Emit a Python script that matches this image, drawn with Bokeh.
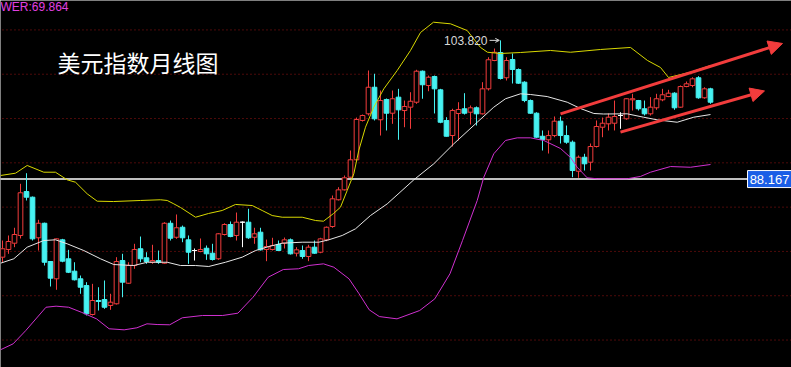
from bokeh.plotting import figure
from bokeh.models import Range1d, Arrow, NormalHead, OpenHead
from bokeh.core.properties import value
from bokeh.embed import file_html
from bokeh.resources import INLINE

# ---------------- data (monthly candles) ----------------
opens = [79.35, 80.22, 80.93, 81.80, 86.76, 86.12, 81.54, 83.18, 78.86, 76.91,
         81.31, 79.17, 77.77, 76.91, 76.15, 72.88, 74.46, 74.57, 73.90, 74.09,
         78.97, 76.41, 78.41, 80.30, 79.28, 78.78, 78.97, 78.67, 83.18, 81.60,
         82.73, 81.31, 80.10, 79.99, 80.36, 79.80, 79.17, 81.91, 83.04, 81.80,
         83.30, 83.30, 81.60, 82.17, 80.22, 80.22, 80.78, 80.93, 81.31, 79.80,
         80.10, 79.43, 80.48, 79.91, 81.31, 82.81, 85.83, 86.95, 88.38, 90.34,
         94.78, 95.53, 98.53, 94.86, 97.15, 95.60, 97.41, 95.90, 96.28, 96.84,
         100.34, 98.73, 99.74, 98.24, 94.78, 93.08, 95.57, 96.10, 95.71, 96.21,
         95.53, 98.35, 101.55, 102.45, 99.60, 101.66, 100.53, 99.10, 97.03, 95.60,
         93.00, 92.60, 93.08, 94.70, 93.08, 92.33, 89.05, 90.63, 90.07, 91.84,
         94.02, 94.40, 94.47, 95.34, 94.97, 97.11, 97.03, 96.10, 95.53, 96.21,
         97.11, 97.48, 97.86, 96.28, 98.61, 98.73, 99.60, 97.34, 98.35]
highs = [81.23, 81.80, 82.67, 87.63, 88.83, 86.20, 83.57, 83.25, 78.90, 81.46,
         81.42, 80.18, 78.78, 77.28, 76.53, 76.34, 75.96, 76.72, 75.22, 79.35,
         79.73, 78.78, 80.86, 81.68, 79.91, 80.75, 80.10, 83.30, 83.49, 84.17,
         82.92, 81.80, 80.33, 81.46, 80.67, 80.86, 82.06, 83.18, 83.38, 84.39,
         83.38, 84.81, 82.67, 82.67, 81.34, 81.54, 81.23, 81.57, 81.46, 80.48,
         80.67, 80.75, 81.23, 81.54, 82.81, 86.31, 87.25, 88.57, 91.39, 95.11,
         95.45, 100.42, 100.05, 98.16, 97.26, 98.16, 98.35, 97.03, 97.97, 100.50,
         100.42, 99.85, 99.85, 98.35, 95.15, 96.10, 96.84, 97.86, 96.47, 96.36,
         99.10, 101.92, 102.90, 103.82, 101.92, 102.34, 100.65, 99.21, 97.15, 95.71,
         93.65, 93.65, 95.23, 95.23, 94.21, 92.52, 90.83, 91.02, 92.18, 94.78,
         95.11, 95.57, 97.03, 95.71, 97.29, 97.79, 97.10, 97.03, 97.41, 97.79,
         98.35, 98.24, 97.97, 98.73, 99.18, 99.66, 99.78, 98.53, 98.47]
lows = [78.78, 79.73, 80.48, 81.46, 85.75, 81.23, 80.10, 78.41, 76.04, 75.67,
        78.78, 77.56, 76.72, 75.22, 72.77, 72.77, 73.33, 73.52, 73.41, 74.01,
        74.83, 76.34, 78.04, 78.78, 78.60, 78.60, 78.60, 78.60, 81.23, 81.42,
        81.04, 78.60, 78.97, 79.91, 79.05, 78.97, 79.05, 81.80, 81.60, 81.23,
        80.48, 81.42, 80.86, 80.10, 78.90, 80.10, 80.05, 80.33, 79.65, 79.43,
        79.17, 78.90, 79.73, 79.80, 81.15, 82.67, 85.75, 86.88, 88.31, 90.26,
        94.66, 95.34, 94.78, 93.08, 93.65, 94.40, 92.60, 94.02, 93.84, 96.66,
        97.23, 98.08, 95.57, 94.47, 92.97, 91.84, 92.52, 95.45, 94.32, 94.21,
        95.45, 98.16, 101.47, 99.40, 99.29, 98.95, 98.92, 96.84, 95.53, 92.82,
        91.39, 91.05, 92.89, 92.18, 92.15, 88.38, 88.31, 89.13, 89.13, 91.73,
        92.89, 93.65, 93.65, 93.84, 94.86, 95.90, 95.90, 95.34, 95.34, 95.98,
        96.95, 97.41, 95.98, 96.21, 98.53, 98.53, 97.23, 97.23, 96.66]
closes = [80.30, 81.12, 81.91, 86.62, 86.12, 81.42, 83.18, 78.78, 76.98, 81.42,
          78.90, 77.65, 76.80, 75.96, 72.96, 74.46, 74.35, 73.70, 74.27, 78.86,
          76.53, 78.41, 80.22, 79.17, 78.86, 78.97, 78.78, 83.18, 81.49, 82.67,
          81.54, 79.91, 80.10, 80.22, 79.73, 79.09, 81.99, 83.04, 81.68, 83.30,
          83.30, 81.54, 81.99, 80.18, 80.55, 80.67, 80.10, 81.31, 79.73, 80.18,
          79.43, 80.48, 79.80, 81.42, 82.73, 85.94, 86.95, 88.31, 90.34, 94.89,
          95.34, 98.53, 94.97, 97.03, 95.60, 97.23, 95.98, 96.36, 96.95, 100.34,
          98.81, 99.66, 98.35, 94.58, 93.00, 95.90, 96.02, 95.60, 96.21, 95.53,
          98.35, 101.63, 102.48, 99.52, 101.55, 100.53, 98.99, 97.03, 95.60, 92.89,
          92.63, 93.08, 94.70, 93.08, 92.33, 89.13, 90.63, 89.89, 91.84, 94.10,
          94.47, 95.15, 95.23, 95.34, 97.23, 97.23, 96.10, 95.53, 96.28, 97.23,
          97.68, 97.86, 96.21, 98.61, 98.92, 99.48, 97.34, 98.35, 96.84]

# Bollinger bands (read at points along each line; x = candle number)
upper_x = [-0.33, 2.17, 4.12, 6.88, 8.83, 10.78, 12.17, 14.12, 15.78, 18.5,
           23.0, 26.33, 27.45, 28.55, 29.67, 32.17, 34.33, 36.62, 38.83, 41.62,
           43.28, 44.95, 46.62, 49.95, 52.17, 53.5, 55.17, 56.33, 57.45, 58.55,
           59.38, 60.5, 61.88, 63.55, 65.78, 68.0, 69.67, 71.83, 74.67, 77.45,
           79.67, 80.83, 83.0, 86.33, 91.33, 94.67, 99.67, 104.67, 107.5, 109.67,
           111.0, 114.67, 118.0]
upper_y = [88.57, 88.83, 89.70, 88.94, 88.94, 88.08, 87.81, 86.50, 85.67, 85.63,
           85.75, 85.83, 85.75, 85.37, 84.96, 83.86, 84.28, 84.62, 85.30, 85.18,
           84.62, 84.05, 83.86, 83.86, 83.49, 83.41, 84.28, 84.99, 86.88, 88.76,
           91.39, 94.02, 96.28, 98.35, 100.42, 102.68, 104.71, 105.87, 105.69, 104.93,
           103.02, 102.48, 102.34, 102.45, 102.68, 102.48, 102.79, 103.02, 101.55, 100.76,
           99.63, 100.23, 100.98]
mid_x = [-0.33, 1.88, 4.12, 6.88, 8.83, 10.78, 13.55, 16.33, 18.55, 21.88,
         24.12, 27.45, 29.67, 32.17, 34.38, 37.17, 39.95, 42.17, 44.38, 46.62,
         49.95, 52.72, 54.38, 56.62, 58.83, 61.33, 64.12, 68.55, 71.88, 75.22,
         79.12, 81.88, 83.83, 86.33, 88.0, 90.78, 94.12, 96.33, 98.55, 100.17,
         104.12, 106.83, 109.12, 112.45, 115.22, 118.0]
mid_y = [78.67, 79.17, 80.48, 81.23, 81.31, 80.86, 80.10, 79.17, 78.52, 78.41,
         78.78, 78.78, 78.41, 78.41, 78.30, 78.78, 79.35, 80.10, 80.55, 80.93,
         81.04, 81.04, 81.31, 81.80, 82.55, 84.05, 85.37, 88.08, 89.89, 92.15,
         94.58, 96.28, 97.23, 97.79, 97.71, 97.48, 96.84, 96.13, 95.57, 95.51,
         95.53, 95.15, 94.85, 94.58, 95.15, 95.45]
lower_x = [-0.33, 1.77, 3.88, 7.25, 8.93, 11.03, 13.13, 15.67, 17.77, 20.28,
           22.4, 24.08, 25.77, 27.87, 29.97, 33.33, 36.7, 39.23, 41.75, 44.28,
           46.8, 49.33, 51.0, 53.5, 55.22, 57.75, 59.43, 61.12, 62.8, 65.75,
           69.53, 72.05, 74.58, 76.67, 79.12, 80.22, 81.88, 83.83, 85.78, 88.0,
           90.22, 93.0, 94.67, 95.78, 97.45, 99.12, 104.12, 106.33, 108.0, 111.33,
           114.67, 118.0]
lower_y = [68.90, 69.57, 71.07, 73.70, 73.82, 73.70, 73.14, 72.39, 71.27, 71.15,
           71.38, 71.83, 71.75, 71.72, 72.51, 72.77, 72.77, 73.03, 74.83, 77.09,
           77.96, 78.04, 78.41, 78.60, 78.22, 76.91, 75.22, 73.41, 72.65, 72.39,
           73.33, 74.65, 77.48, 81.23, 85.75, 88.38, 91.02, 92.52, 92.82, 92.82,
           92.52, 91.62, 90.60, 89.50, 88.31, 88.20, 88.20, 88.46, 88.94, 89.58,
           89.50, 89.81]

ref_level = 88.167
grid_levels = [70, 75, 80, 85, 90, 95, 100, 105]
title_text = "美元指数月线图"
indicator_text = "WER:69.864"
# hand-drawn trend arrows: (x start, price start, x end, price end)
arrow_upper = [93.0, 95.53, 130.0, 103.47]
arrow_lower = [103.0, 93.46, 127.0, 98.11]

# ---------------- styling ----------------
RED = "#f23c3c"
CYAN = "#46f2f2"
YELLOW = "#d8d800"
MIDC = "#e6e6e6"
MAG = "#d030d0"
GRID = "#9a1414"
BOXBLUE = "#1a5ee6"

X0, X1 = -0.333, 131.5
Y0, Y1 = 66.90, 108.32

p = figure(width=791, height=367, x_range=Range1d(X0, X1), y_range=Range1d(Y0, Y1),
           output_backend="svg", toolbar_location=None,
           x_axis_location=None, y_axis_location=None,
           background_fill_color="black", border_fill_color="black",
           outline_line_color=None, min_border=0)
p.xgrid.grid_line_color = None
p.ygrid.grid_line_color = None

# dotted grid
p.segment(x0=[X0 - 1] * len(grid_levels), x1=[X1 + 1] * len(grid_levels),
          y0=grid_levels, y1=grid_levels, line_color=GRID, line_dash="1 3", line_width=1)

# reference horizontal line and its price box
box_left = 124.17
p.segment(x0=[X0 - 1], x1=[box_left], y0=[ref_level], y1=[ref_level],
          line_color="white", line_width=1.5)

# candles
idx = list(range(len(opens)))
cols, fills, tops, bots = [], [], [], []
for o, c in zip(opens, closes):
    if c > o:
        cols.append(RED); fills.append("black")
    elif c < o:
        cols.append(CYAN); fills.append(CYAN)
    else:
        cols.append("white"); fills.append("white")
    tops.append(max(o, c)); bots.append(min(o, c))

p.segment(x0=idx, x1=idx, y0=lows, y1=highs, line_color=cols, line_width=1)
p.vbar(x=idx, width=0.78, top=tops, bottom=bots, fill_color=fills,
       line_color=cols, line_width=1)

# bands
p.line(upper_x, upper_y, line_color=YELLOW, line_width=1)
p.line(mid_x, mid_y, line_color=MIDC, line_width=1)
p.line(lower_x, lower_y, line_color=MAG, line_width=1)

# price box
p.quad(left=[box_left], right=[X1 + 0.5], top=[ref_level + 0.96], bottom=[ref_level - 0.96],
       fill_color=BOXBLUE, line_color="white", line_width=1)
p.text(x=[(box_left + X1) / 2], y=[ref_level], text=[f"{ref_level:.3f}"],
       text_align="center", text_baseline="middle", text_color="white",
       text_font=value("Liberation Sans"), text_font_size="13px")

# max high label
imax = max(range(len(highs)), key=lambda i: highs[i])
hmax = highs[imax]
p.text(x=[imax - 2.17], y=[hmax], text=[f"{hmax:.3f}"], text_align="right",
       text_baseline="middle", text_color="#d8d8d8",
       text_font=value("Liberation Sans"), text_font_size="12px")
p.add_layout(Arrow(x_start=imax - 1.83, y_start=hmax, x_end=imax - 0.2, y_end=hmax,
                   line_color="#d8d8d8", line_width=1,
                   end=OpenHead(size=4, line_color="#d8d8d8", line_width=1)))

# title and indicator text
p.text(x=[9.17], y=[101.43], text=[title_text], text_align="left", text_baseline="middle",
       text_color="white", text_font=value("Noto Sans CJK SC"), text_font_size="23px")
p.text(x=[X0], y=[Y1 + 0.1], text=[indicator_text], text_align="left", text_baseline="top",
       text_color="#e040e0", text_font=value("Liberation Sans"), text_font_size="12px")

# red trend arrows
for a in (arrow_upper, arrow_lower):
    p.add_layout(Arrow(x_start=a[0], y_start=a[1], x_end=a[2], y_end=a[3],
                       line_color=RED, line_width=3,
                       end=NormalHead(size=14, fill_color=RED, line_color=RED)))

open("out.html", "w").write(file_html(p, INLINE))
